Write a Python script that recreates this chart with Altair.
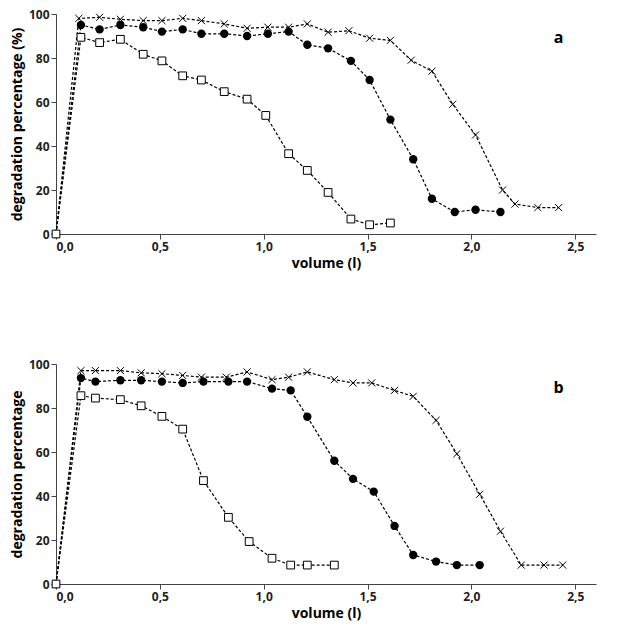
import altair as alt
import pandas as pd

# panel a
a_cross_x = [0, 0.11, 0.21, 0.31, 0.42, 0.51, 0.61, 0.70, 0.81, 0.92, 1.02, 1.12, 1.21, 1.31, 1.41, 1.51, 1.61, 1.71, 1.81, 1.91, 2.02, 2.15, 2.21, 2.32, 2.42]
a_cross_y = [0, 98, 98.5, 97.6, 97, 97, 98, 97, 95.5, 93.5, 94, 94, 95.5, 91.7, 92.4, 89, 88, 79, 74, 59, 45, 20, 13.6, 12, 12]
a_circ_x = [0, 0.12, 0.21, 0.31, 0.42, 0.51, 0.61, 0.70, 0.81, 0.92, 1.02, 1.12, 1.21, 1.31, 1.42, 1.51, 1.61, 1.72, 1.81, 1.92, 2.02, 2.14]
a_circ_y = [0, 95, 93, 95, 94, 92, 93, 91, 91, 90, 91, 92, 86, 84.4, 78.7, 70, 52, 34, 16, 10, 11, 10]
a_sq_x = [0, 0.12, 0.21, 0.31, 0.42, 0.51, 0.61, 0.70, 0.81, 0.92, 1.01, 1.12, 1.21, 1.31, 1.42, 1.51, 1.61]
a_sq_y = [0, 89.4, 87, 88.5, 81.7, 78.7, 71.9, 70, 64.7, 61.3, 53.9, 36.5, 28.9, 18.9, 6.8, 4.2, 5]

# panel b
b_cross_x = [0, 0.12, 0.19, 0.31, 0.41, 0.51, 0.61, 0.70, 0.82, 0.92, 1.04, 1.12, 1.21, 1.34, 1.43, 1.52, 1.63, 1.72, 1.83, 1.93, 2.04, 2.14, 2.24, 2.35, 2.44]
b_cross_y = [0, 97, 97, 97, 96, 95.6, 94.8, 94, 94, 96.4, 92.9, 94, 96.4, 92.9, 91.4, 91.4, 88, 85.3, 74.4, 59.2, 40.8, 24, 8.6, 8.6, 8.6]
b_circ_x = [0, 0.12, 0.19, 0.31, 0.41, 0.51, 0.61, 0.71, 0.83, 0.92, 1.04, 1.13, 1.21, 1.34, 1.43, 1.53, 1.63, 1.72, 1.83, 1.93, 2.04]
b_circ_y = [0, 93.6, 92, 92.6, 92.6, 92, 91.4, 92, 92, 92, 88.8, 88, 76, 56, 47.8, 42, 26.4, 13.2, 10.2, 8.6, 8.6]
b_sq_x = [0, 0.12, 0.19, 0.31, 0.41, 0.51, 0.61, 0.71, 0.83, 0.93, 1.04, 1.13, 1.21, 1.34]
b_sq_y = [0, 85.6, 84.5, 83.8, 81, 76.2, 70.4, 47, 30.3, 19.3, 11.7, 8.6, 8.6, 8.6]

FONT = 'Open Sans'
XSHAPE = 'M-1,-1L1,1M-1,1L1,-1'


def series(xs, ys, name):
    return pd.DataFrame({'v': xs, 'd': ys, 's': name})


def panel(parts, ytitle, letter):
    df = pd.concat([series(*p) for p in parts])
    x = alt.X('v:Q', scale=alt.Scale(domain=[0, 2.5]), title='volume (l)',
              axis=alt.Axis(values=[0, 0.5, 1, 1.5, 2, 2.5], grid=False,
                            labelExpr="replace(format(datum.value, '.1f'), '.', ',')"))
    y = alt.Y('d:Q', scale=alt.Scale(domain=[0, 100]), title=ytitle,
              axis=alt.Axis(values=[0, 20, 40, 60, 80, 100], grid=False))
    base = alt.Chart(df).encode(x=x, y=y)
    lines = base.mark_line(color='black', strokeDash=[3, 2], strokeWidth=1.2).encode(detail='s:N')
    cross = base.transform_filter(alt.datum.s == 'x').mark_point(
        shape=XSHAPE, size=50, color='black', strokeWidth=1, opacity=1)
    circ = base.transform_filter(alt.datum.s == 'c').mark_circle(size=70, color='black', opacity=1)
    sq = base.transform_filter(alt.datum.s == 'q').mark_point(
        shape='square', size=60, color='black', fill='white', filled=False, strokeWidth=1, opacity=1)
    lab = alt.Chart(pd.DataFrame({'v': [2.42], 'd': [89], 't': [letter]})).mark_text(
        fontWeight='bold', fontSize=16, font=FONT, color='black').encode(
        x=alt.X('v:Q'), y=alt.Y('d:Q'), text='t:N')
    return (lines + cross + circ + sq + lab).properties(width=540, height=220)


pa = panel([(a_cross_x, a_cross_y, 'x'), (a_circ_x, a_circ_y, 'c'), (a_sq_x, a_sq_y, 'q')],
           'degradation percentage (%)', 'a')
pb = panel([(b_cross_x, b_cross_y, 'x'), (b_circ_x, b_circ_y, 'c'), (b_sq_x, b_sq_y, 'q')],
           'degradation percentage', 'b')

chart = alt.vconcat(pa, pb, spacing=88).configure_view(stroke=None).configure_axis(
    labelFont=FONT, titleFont=FONT, labelFontSize=12, titleFontSize=14,
    labelFontWeight='bold', titleFontWeight='bold', labelColor='#222', titleColor='black',
    domainColor='#444', tickColor='#444'
).properties(padding={'left': 2, 'top': 0, 'right': 8, 'bottom': 2})

chart.save("out.html", embed_options={"renderer": "svg", "actions": False})
